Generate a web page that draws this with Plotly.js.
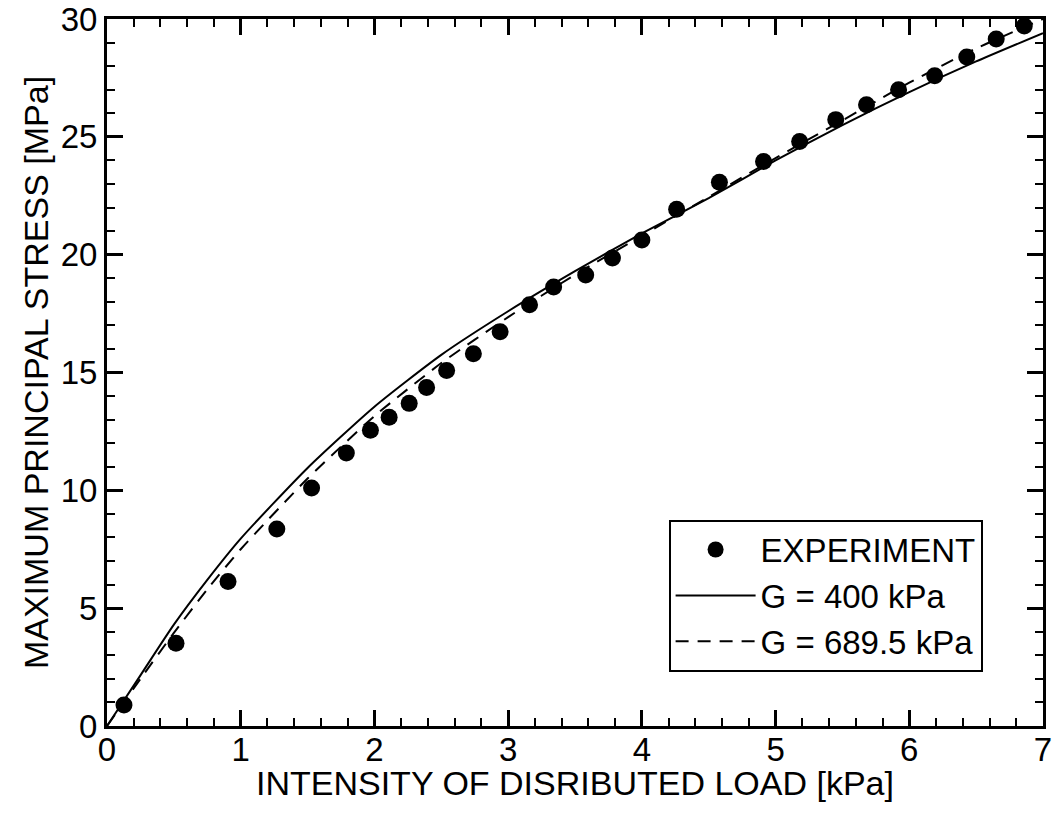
<!DOCTYPE html>
<html>
<head>
<meta charset="utf-8">
<script src="https://cdn.plot.ly/plotly-3.0.1.min.js"></script>
<style>html,body{margin:0;padding:0;background:#fff;}#chart{width:1056px;height:816px;}</style>
</head>
<body>
<div id="chart"></div>
<script>
// Experiment points
const expX = [0.127, 0.516, 0.905, 1.27, 1.53, 1.79, 1.97, 2.11, 2.26, 2.39, 2.54, 2.74, 2.94, 3.16, 3.34, 3.58, 3.78, 4.00, 4.26, 4.58, 4.91, 5.18, 5.45, 5.68, 5.92, 6.19, 6.43, 6.65, 6.86];
const expY = [0.89, 3.51, 6.13, 8.36, 10.10, 11.58, 12.55, 13.10, 13.69, 14.36, 15.08, 15.80, 16.73, 17.87, 18.63, 19.14, 19.86, 20.62, 21.93, 23.07, 23.95, 24.80, 25.73, 26.36, 27.00, 27.59, 28.39, 29.15, 29.70];

// G = 400 kPa curve
const g400X = [0, 0.25, 0.5, 0.75, 1, 1.5, 2, 2.5, 3, 3.5, 4, 4.5, 5, 5.5, 6, 6.5, 7];
const g400Y = [0, 2.15, 4.3, 6.2, 7.95, 10.95, 13.55, 15.75, 17.6, 19.3, 20.9, 22.4, 24.0, 25.5, 26.9, 28.2, 29.4];

// G = 689.5 kPa curve
const g689X = [0, 0.25, 0.5, 0.75, 1, 1.5, 2, 2.5, 3, 3.5, 4, 4.5, 5, 5.5, 6, 6.5, 7];
const g689Y = [0, 2.0, 3.95, 5.8, 7.5, 10.5, 13.15, 15.4, 17.35, 19.15, 20.8, 22.45, 24.1, 25.7, 27.3, 28.75, 30.0];

const names = ["EXPERIMENT", "G = 400 kPa", "G = 689.5 kPa"];
const xTitle = "INTENSITY OF DISRIBUTED LOAD [kPa]";
const yTitle = "MAXIMUM PRINCIPAL STRESS [MPa]";

const FONT = "Liberation Sans, Arial, Helvetica, sans-serif";

const traces = [
  {x: expX, y: expY, name: names[0], mode: "markers", type: "scatter",
   marker: {color: "#000", size: 17, symbol: "circle"}, cliponaxis: false},
  {x: g400X, y: g400Y, name: names[1], mode: "lines", type: "scatter",
   line: {color: "#000", width: 2, shape: "spline", smoothing: 0.6}},
  {x: g689X, y: g689Y, name: names[2], mode: "lines", type: "scatter",
   line: {color: "#000", width: 2, dash: "13px,9px", shape: "spline", smoothing: 0.6}}
];

const axisCommon = {
  showline: true, linecolor: "#000", linewidth: 3, mirror: "ticks",
  ticks: "inside", ticklen: 16, tickwidth: 3, tickcolor: "#000",
  showgrid: false, zeroline: false, ticklabeloverflow: "allow",
  tickfont: {family: FONT, size: 33, color: "#000"}
};

const layout = {
  width: 1056, height: 816,
  paper_bgcolor: "#fff", plot_bgcolor: "#fff",
  margin: {l: 107, r: 13, t: 19, b: 90},
  showlegend: true,
  font: {family: FONT, color: "#000"},
  xaxis: Object.assign({}, axisCommon, {
    range: [0, 7], dtick: 1, tick0: 0, ticklabelstandoff: -8,
    minor: {dtick: 0.2, ticks: "inside", ticklen: 8, tickwidth: 2, tickcolor: "#000", showgrid: false}
  }),
  yaxis: Object.assign({}, axisCommon, {
    range: [0, 30], dtick: 5, tick0: 0,
    minor: {dtick: 1, ticks: "inside", ticklen: 8, tickwidth: 2, tickcolor: "#000", showgrid: false},
    title: {text: yTitle, font: {family: FONT, size: 34, color: "#000"}, standoff: 2}
  }),
  annotations: [{
    text: xTitle, xref: "paper", yref: "paper", x: 0.5, y: 0,
    xanchor: "center", yanchor: "middle", yshift: -57, showarrow: false,
    font: {family: FONT, size: 34, color: "#000"}
  }],
  legend: {
    x: 0.600, y: 0.292, xanchor: "left", yanchor: "top",
    bgcolor: "#fff", bordercolor: "#000", borderwidth: 2,
    font: {family: FONT, size: 33, color: "#000"},
    itemwidth: 80, tracegroupgap: 0
  }
};

Plotly.newPlot("chart", traces, layout, {displayModeBar: false, staticPlot: true});
</script>
</body>
</html>
